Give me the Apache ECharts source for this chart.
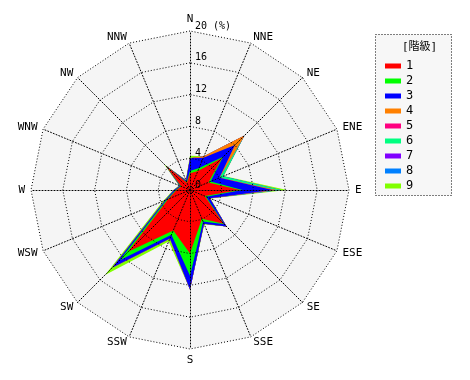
<!DOCTYPE html>
<html>
<head>
<meta charset="utf-8">
<script src="https://cdn.jsdelivr.net/npm/echarts@6/dist/echarts.min.js"></script>
<style>html,body{margin:0;padding:0;background:#fff}#c{width:470px;height:380px}</style>
</head>
<body>
<div id="c"></div>
<script>
// Directions, clockwise from North
var directions = ['N','NNE','NE','ENE','E','ESE','SE','SSE','S','SSW','SW','WSW','W','WNW','NW','NNW'];
var classNames = ['1','2','3','4','5','6','7','8','9'];
var classColors = ['#ff0000','#00ff00','#0000ff','#ff8000','#ff0080','#00ff80','#8000ff','#0080ff','#80ff00'];
var ringTicks = [0, 4, 8, 12, 16, 20];
// Frequency (%) of each class per direction (clockwise from N)
var class1 = [2.1, 2.6, 5.7, 2.5, 6.3, 2.0, 6.0, 3.9, 8.0, 5.5, 11.0, 3.0, 1.7, 1.2, 4.3, 1.0];
var class2 = [0.3, 0.4, 0.2, 0.3, 0.3, 0.2, 0.1, 0.4, 2.8, 0.6, 1.5, 0.2, 0.1, 0.1, 0.0, 0.1];
var class3 = [1.6, 1.4, 2.1, 1.2, 3.8, 0.5, 0.4, 0.3, 1.7, 0.5, 1.3, 0.2, 0.2, 0.1, 0.0, 0.2];
var class4 = [0.0, 0.2, 1.7, 0.0, 0.4, 0.0, 0.0, 0.0, 0.0, 0.0, 0.0, 0.0, 0.0, 0.0, 0.0, 0.0];
var class5 = [0.0, 0.0, 0.0, 0.0, 0.0, 0.0, 0.0, 0.0, 0.0, 0.0, 0.0, 0.0, 0.0, 0.0, 0.0, 0.0];
var class6 = [0.0, 0.0, 0.0, 0.5, 0.6, 0.0, 0.0, 0.0, 0.0, 0.0, 0.0, 0.0, 0.0, 0.0, 0.0, 0.0];
var class7 = [0.0, 0.0, 0.0, 0.0, 0.0, 0.0, 0.0, 0.0, 0.0, 0.0, 0.0, 0.0, 0.0, 0.0, 0.0, 0.0];
var class8 = [0.0, 0.0, 0.0, 0.0, 0.0, 0.0, 0.0, 0.0, 0.0, 0.0, 0.0, 0.0, 0.0, 0.0, 0.0, 0.0];
var class9 = [0.3, 0.0, 0.0, 0.1, 0.8, 0.1, 0.0, 0.1, 0.0, 0.4, 1.3, 0.3, 0.1, 0.1, 0.3, 0.1];
var classes = [class1, class2, class3, class4, class5, class6, class7, class8, class9];

// ECharts radar lays indicators counter-clockwise: reorder N, NNW, NW, ...
var order = [0];
for (var i = directions.length - 1; i >= 1; i--) order.push(i);

var FONT = '"DejaVu Sans Mono", "Noto Sans CJK JP", monospace';
var CENTER = [190, 190], RADIUS = 159;

// cumulative (stacked) values
var cum = [];
var running = directions.map(function(){return 0;});
classes.forEach(function(arr, k){
  running = running.map(function(v, i){ return v + arr[i]; });
  cum.push(order.map(function(i){ return +running[i].toFixed(2); }));
});

var series = [];
for (var k = classes.length - 1; k >= 0; k--) {
  series.push({
    type: 'radar', radarIndex: 0, name: classNames[k], z: 2,
    symbol: 'none', silent: true,
    itemStyle: {color: classColors[k]},
    lineStyle: {width: 0, color: classColors[k]},
    areaStyle: {color: classColors[k], opacity: 1},
    data: [{value: cum[k], name: classNames[k]}]
  });
}

var indicator = order.map(function(i){ return {name: directions[i], min: 0, max: 20}; });
var dotted = {color: '#000', type: [1, 2], width: 1};

var chart = echarts.init(document.getElementById('c'), null, {renderer: 'canvas'});
chart.setOption({
  animation: false,
  backgroundColor: '#fff',
  title: {text: '[階級]', left: 397, top: 37, textStyle: {fontFamily: FONT, fontSize: 11, fontWeight: 'normal', color: '#000'}},
  graphic: [{type: 'rect', z: 0, shape: {x: 375.5, y: 34.5, width: 76, height: 161},
    style: {fill: '#f7f7f7', stroke: '#000', lineWidth: 1, lineDash: [1, 2]}}],
  legend: {
    data: classNames, orient: 'vertical', left: 380, top: 55,
    icon: 'rect', itemWidth: 16, itemHeight: 5, itemGap: 3, itemTextGap: 5,
    selectedMode: false,
    textStyle: {fontFamily: FONT, fontSize: 12, lineHeight: 12, color: '#000'}
  },
  radar: [
    {
      center: CENTER, radius: RADIUS, startAngle: 90, shape: 'polygon', splitNumber: 5, z: 0,
      indicator: indicator,
      axisName: {color: '#000', fontFamily: FONT, fontSize: 11},
      nameGap: 6,
      axisLine: {show: false}, axisTick: {show: false}, axisLabel: {show: false},
      splitLine: {show: false},
      splitArea: {show: true, areaStyle: {color: ['#f5f5f5']}}
    },
    {
      center: CENTER, radius: RADIUS, startAngle: 90, shape: 'polygon', splitNumber: 5, z: 3,
      indicator: indicator.map(function(d){ return {name: '', min: 0, max: 20}; }),
      axisName: {show: false},
      axisLine: {show: true, lineStyle: dotted},
      axisTick: {show: false}, axisLabel: {show: false},
      splitLine: {show: true, lineStyle: dotted},
      splitArea: {show: false}
    }
  ],
  polar: {center: CENTER, radius: RADIUS},
  angleAxis: {type: 'value', min: 0, max: 360, startAngle: 90, show: false},
  radiusAxis: {
    type: 'value', min: ringTicks[0], max: ringTicks[ringTicks.length - 1], interval: 4, z: 10,
    axisLine: {show: false}, axisTick: {show: false}, splitLine: {show: false},
    axisLabel: {
      show: true, fontFamily: FONT, fontSize: 10, color: '#000',
      align: 'left', verticalAlign: 'bottom', margin: -5,
      formatter: function(v){ return v === 20 ? '20 (%)' : String(v); }
    }
  },
  series: series
});
</script>
</body>
</html>
